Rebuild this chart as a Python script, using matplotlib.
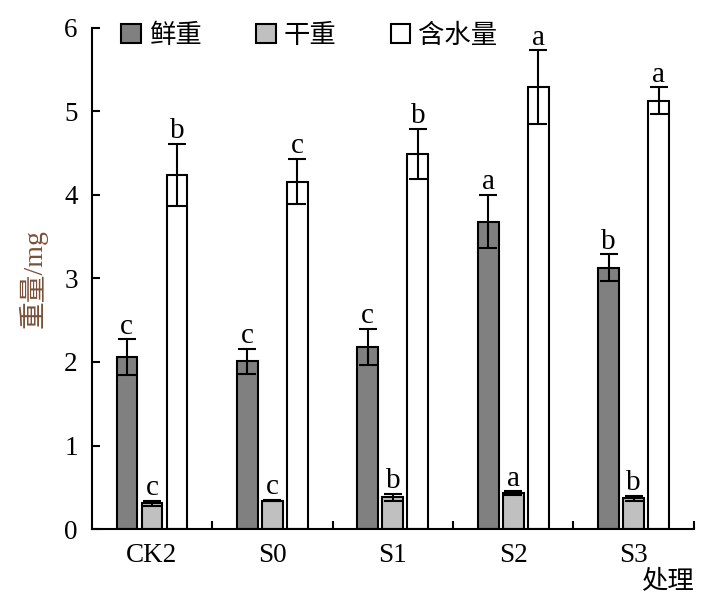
import matplotlib
matplotlib.use('Agg')
import matplotlib.pyplot as plt
import numpy as np
from matplotlib.patches import Patch

plt.rcParams['font.family'] = ['Liberation Serif', 'Noto Sans CJK SC']

# treatments
groups = ['CK2', 'S0', 'S1', 'S2', 'S3']
series = ['鲜重', '干重', '含水量']

# means [mg]
fresh = [2.06, 2.01, 2.18, 3.68, 3.13]
dry = [0.31, 0.34, 0.38, 0.43, 0.37]
water = [4.24, 4.16, 4.49, 5.29, 5.13]

# standard errors
fresh_err = [0.21, 0.15, 0.22, 0.32, 0.16]
dry_err = [0.03, 0.01, 0.04, 0.02, 0.03]
water_err = [0.37, 0.27, 0.30, 0.44, 0.16]

# significance letters
fresh_sig = ['c', 'c', 'c', 'a', 'b']
dry_sig = ['c', 'c', 'b', 'a', 'b']
water_sig = ['b', 'c', 'b', 'a', 'a']

colors = ['#808080', '#c0c0c0', '#ffffff']

fig = plt.figure(figsize=(7.22, 6.06), dpi=100)
ax = fig.add_axes([0.127, 0.127, 0.834, 0.827])

x = np.arange(len(groups))
width = 0.172
offset = 0.208

data = [(fresh, fresh_err, fresh_sig), (dry, dry_err, dry_sig), (water, water_err, water_sig)]
for i, (vals, errs, sig) in enumerate(data):
    pos = x + (i - 1) * offset
    ax.bar(pos, vals, width, color=colors[i], edgecolor='black', linewidth=1.5, zorder=2)
    ax.errorbar(pos, vals, yerr=errs, fmt='none', ecolor='black', elinewidth=1.5,
                capsize=6.5, capthick=1.5, zorder=3)
    for p, v, e, s in zip(pos, vals, errs, sig):
        ax.annotate(s, (p, v + e), xytext=(0, 4), textcoords='offset points',
                    ha='center', va='baseline', fontsize=21)

ax.set_xlim(-0.5, 4.5)
ax.set_ylim(0, 6)
ax.spines['top'].set_visible(False)
ax.spines['right'].set_visible(False)
ax.spines['left'].set_linewidth(1.5)
ax.spines['bottom'].set_linewidth(1.5)

ax.set_yticks(range(7))
ax.tick_params(axis='y', direction='in', length=6, width=1.5, labelsize=19.5, pad=10)
ax.set_xticks(np.arange(0.5, 5, 1))
ax.set_xticks(x, minor=True)
ax.set_xticklabels([])
ax.set_xticklabels(groups, minor=True)
ax.tick_params(axis='x', which='major', direction='in', length=6, width=1.5)
ax.tick_params(axis='x', which='minor', length=0, labelsize=19.5, pad=10)

ax.set_ylabel('重量/mg', fontsize=20, color='#7a5038', labelpad=12)
ax.text(1.0, -0.075, '处理', transform=ax.transAxes, ha='right', va='top',
        fontsize=19, family=['Noto Sans CJK SC'])

handles = [Patch(facecolor=c, edgecolor='black', linewidth=1.5) for c in colors]
leg = ax.legend(handles, series, loc='upper left', bbox_to_anchor=(0.01, 1.06), ncol=3,
                frameon=False, handlelength=0.75, handleheight=0.75, handletextpad=0.3,
                columnspacing=2.05,
                prop={'family': 'Noto Sans CJK SC', 'size': 19})

fig.savefig('out.png', dpi=100)
